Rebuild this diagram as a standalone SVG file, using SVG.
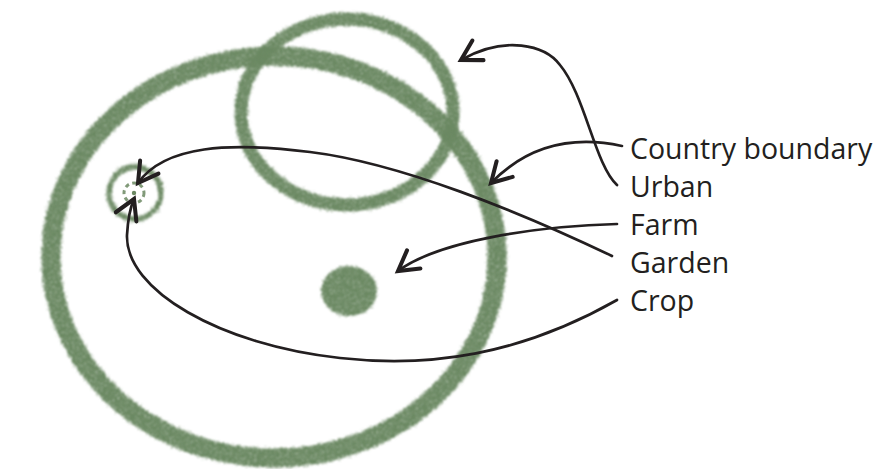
<svg xmlns="http://www.w3.org/2000/svg" width="886" height="469" viewBox="0 0 886 469">
  <defs>
    <filter id="chalk" x="-10%" y="-10%" width="120%" height="120%">
      <feTurbulence type="fractalNoise" baseFrequency="0.8" numOctaves="2" seed="3" result="n"/>
      <feDisplacementMap in="SourceGraphic" in2="n" scale="7" xChannelSelector="R" yChannelSelector="G" result="d"/>
      <feTurbulence type="fractalNoise" baseFrequency="0.6" numOctaves="2" seed="11" result="n2"/>
      <feColorMatrix in="n2" type="matrix" values="0 0 0 0 0  0 0 0 0 0  0 0 0 0 0  2.5 0 0 0 -0.1" result="mask"/>
      <feComposite in="d" in2="mask" operator="in" result="spk"/>
      <feGaussianBlur in="spk" stdDeviation="0.8"/>
    </filter>
    <marker id="arrow" markerUnits="userSpaceOnUse" markerWidth="30" markerHeight="30" refX="0" refY="0" viewBox="-16 -10 20 20" orient="auto">
      <path d="M-13,-7.5 L0,0 L-13,7.5" fill="none" stroke="#231f20" stroke-width="2.7" stroke-linecap="round" stroke-linejoin="miter"/>
    </marker>
  </defs>
  <style>
    .ring { fill: none; stroke: #6b8862; }
    .solid { fill: #6b8862; stroke: none; }
    .label { font-family: "Open Sans", "Noto Sans", "Liberation Sans", sans-serif; font-size: 28.5px; fill: #231f20; }
    .conn { fill: none; stroke: #231f20; stroke-width: 2.7; stroke-linecap: round; marker-end: url(#arrow); }
  </style>
  <rect width="886" height="469" fill="#ffffff"/>

  <g id="country" filter="url(#chalk)">
    <ellipse class="ring" cx="274" cy="257" rx="223" ry="201" stroke-width="19"/>
  </g>
  <g id="urban" filter="url(#chalk)">
    <ellipse class="ring" cx="347" cy="112" rx="106" ry="93" stroke-width="13"/>
  </g>
  <g id="garden" filter="url(#chalk)">
    <circle class="ring" cx="135" cy="193" r="26" stroke-width="5.5"/>
  </g>
  <g id="crop">
    <circle class="ring" cx="134" cy="193" r="10" stroke-width="3" stroke-dasharray="4 3.5" opacity="0.85"/>
    <circle class="solid" cx="134" cy="193" r="2.2"/>
  </g>
  <g id="farm" filter="url(#chalk)">
    <ellipse class="solid" cx="349" cy="291" rx="28" ry="25"/>
  </g>

  <g id="labels">
    <text class="label" x="630" y="159">Country boundary</text>
    <text class="label" x="630" y="197">Urban</text>
    <text class="label" x="630" y="235">Farm</text>
    <text class="label" x="630" y="273">Garden</text>
    <text class="label" x="630" y="311">Crop</text>
  </g>

  <g id="connectors">
    <path class="conn" d="M622,146 C585,138 535,138 491,183"/>
    <path class="conn" d="M617,185 C595,165 585,95 560,65 C545,45 505,35 461,60"/>
    <path class="conn" d="M617,224 C540,226 440,240 398,271"/>
    <path class="conn" d="M612,256 C520,212 400,163 310,152 C230,142 165,145 138,183"/>
    <path class="conn" d="M617,300 C520,355 430,368 340,358 C220,345 125,290 127,235 C128,218 130,208 134,199"/>
  </g>
</svg>
